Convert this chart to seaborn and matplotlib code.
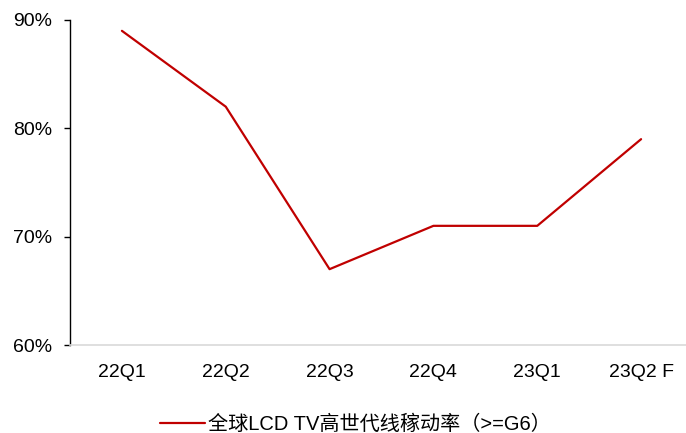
import numpy as np
import pandas as pd
import matplotlib
matplotlib.use('Agg')
import matplotlib.pyplot as plt
import seaborn as sns
from matplotlib.ticker import FuncFormatter

quarters = ['22Q1', '22Q2', '22Q3', '22Q4', '23Q1', '23Q2 F']
utilization = [89, 82, 67, 71, 71, 79]
series_name = '全球LCD TV高世代线稼动率（>=G6）'

df = pd.DataFrame({'quarter': quarters, 'rate': utilization, 'series': series_name})

sns.set_style('white')
plt.rcParams['font.family'] = ['Liberation Sans', 'Noto Sans CJK SC', 'DejaVu Sans']
plt.rcParams['text.color'] = 'black'
plt.rcParams['xtick.color'] = 'black'
plt.rcParams['ytick.color'] = 'black'

fig = plt.figure(figsize=(6.86, 4.33), dpi=100)
# axes runs slightly past the right edge, like the source
ax = fig.add_axes([70 / 686, 88 / 433, 623 / 686, 325 / 433])

sns.lineplot(data=df, x='quarter', y='rate', hue='series', palette=['#C00000'],
             linewidth=1.6, ax=ax, sort=False)

ax.set_ylim(60, 90)
ax.set_yticks([60, 70, 80, 90])
ax.yaxis.set_major_formatter(FuncFormatter(lambda v, p: f'{v:.0f}%'))
ax.set_xlim(-0.5, 5.5)
ax.set_xlabel('')
ax.set_ylabel('')

for s in ['top', 'right']:
    ax.spines[s].set_visible(False)
ax.spines['left'].set_color('black')
ax.spines['left'].set_linewidth(1.0)
ax.spines['bottom'].set_color('#d9d9d9')
ax.spines['bottom'].set_linewidth(1.2)

ax.tick_params(axis='y', which='major', left=True, length=4, width=1, color='black',
               labelcolor='black', labelsize=14, pad=9)
ax.tick_params(axis='x', which='major', bottom=False, labelcolor='black', labelsize=14, pad=10)

ax.get_legend().remove()
handles, labels = ax.get_legend_handles_labels()
leg = fig.legend(handles, labels, loc='center', bbox_to_anchor=(355.5 / 686, 1 - 424 / 433),
                 frameon=False, fontsize=14.5, handlelength=2.2, handletextpad=0.15)
for t in leg.get_texts():
    t.set_color('black')

fig.savefig('out.png', dpi=100)
